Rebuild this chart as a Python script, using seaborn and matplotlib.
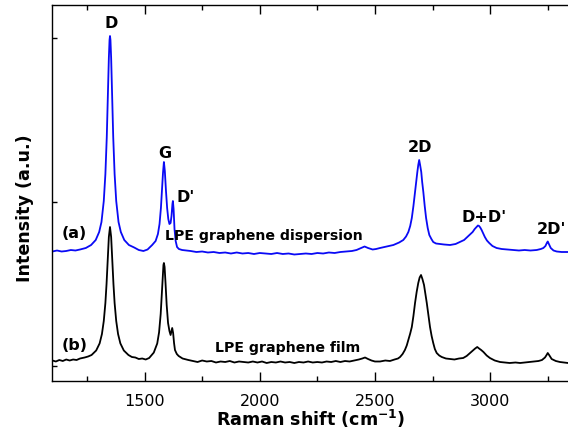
import pandas as pd
import matplotlib
matplotlib.use('Agg')
import matplotlib.pyplot as plt
import seaborn as sns

# (a) LPE graphene dispersion: (Raman shift, intensity a.u.)
spectrum_a = [
    (1100, 129.5), (1120, 130.5), (1140, 129.5), (1160, 130), (1180, 131), (1200, 130.5),
    (1220, 131.5), (1245, 133), (1268, 136), (1288, 141), (1303, 149), (1313, 159),
    (1323, 180), (1330, 207), (1336, 244), (1341, 288), (1345, 323), (1348, 341),
    (1350, 345), (1352, 341), (1355, 323), (1359, 288), (1364, 244), (1370, 207),
    (1377, 180), (1387, 159), (1397, 149), (1412, 141), (1432, 136), (1455, 133.5),
    (1475, 131), (1495, 130), (1513, 131.5), (1533, 136), (1548, 140), (1558, 147),
    (1565, 157), (1571, 173), (1576, 192), (1580, 208), (1584, 219), (1588, 210),
    (1593, 190), (1598, 173), (1603, 162), (1608, 157), (1613, 158), (1617, 165),
    (1621, 177), (1623, 180), (1626, 172), (1630, 152), (1635, 140), (1641, 134),
    (1649, 132), (1663, 131), (1680, 130.5), (1700, 130), (1725, 129), (1750, 129.5),
    (1775, 128.5), (1800, 129), (1825, 128), (1850, 128.5), (1875, 127.5), (1900, 128.5),
    (1925, 127.5), (1950, 128), (1975, 127), (2000, 128), (2025, 127.5), (2050, 127),
    (2075, 128), (2100, 127), (2125, 127.5), (2150, 126.5), (2175, 127), (2200, 127.5),
    (2225, 127), (2250, 128), (2275, 127.5), (2300, 128.5), (2325, 128), (2350, 129),
    (2375, 129.5), (2400, 130), (2420, 131), (2440, 133), (2455, 134.5), (2470, 133),
    (2490, 131.5), (2505, 132), (2522, 133), (2550, 134.5), (2580, 136), (2605, 138.5),
    (2623, 141), (2635, 144.5), (2645, 149), (2653, 155), (2660, 163), (2667, 175),
    (2674, 189), (2680, 201), (2684, 209), (2688, 216), (2692, 221), (2696, 216),
    (2701, 209), (2705, 199), (2710, 189), (2716, 175), (2722, 163), (2729, 153),
    (2736, 146), (2745, 142), (2753, 139), (2765, 137.5), (2782, 137), (2800, 136.5),
    (2826, 136), (2850, 137), (2869, 139), (2887, 141), (2901, 144), (2912, 146.5),
    (2924, 149), (2933, 152), (2941, 154), (2947, 155.5), (2952, 155), (2957, 153.5),
    (2963, 151), (2970, 147.5), (2977, 144), (2986, 140.5), (2996, 138), (3010, 135),
    (3028, 133), (3050, 132), (3075, 131.5), (3099, 131), (3125, 130.5), (3150, 131),
    (3175, 130.5), (3202, 131), (3220, 132), (3231, 133), (3240, 135), (3246, 138),
    (3250, 139.5), (3255, 137), (3263, 133), (3275, 130.5), (3289, 129.5), (3310, 129),
    (3338, 129),
]

# (b) LPE graphene film
spectrum_b = [
    (1100, 20.5), (1115, 19.5), (1130, 21), (1145, 20), (1160, 21.5), (1175, 20.5),
    (1190, 21.5), (1205, 21), (1220, 22.5), (1240, 23.5), (1255, 24.5), (1270, 26),
    (1290, 30.5), (1305, 37.6), (1315, 47), (1323, 60), (1330, 78), (1335, 97),
    (1340, 121), (1345, 144), (1350, 154), (1355, 144), (1360, 121), (1365, 97),
    (1370, 78), (1377, 60), (1385, 47), (1395, 37.6), (1410, 30.5), (1430, 26),
    (1445, 24), (1460, 23.5), (1475, 22), (1490, 22.5), (1505, 21.5), (1520, 23),
    (1540, 28.4), (1555, 37.5), (1563, 48.7), (1570, 67), (1575, 88), (1579, 106),
    (1582, 116), (1584, 118), (1587, 114), (1591, 98), (1596, 76), (1602, 58),
    (1608, 50), (1613, 46), (1617, 50), (1620, 53), (1624, 48), (1628, 38),
    (1632, 31), (1640, 27), (1648, 25), (1665, 22.5), (1690, 21), (1710, 20),
    (1730, 19), (1750, 20.5), (1770, 19.5), (1790, 20), (1810, 18.5), (1830, 19.5),
    (1850, 19), (1870, 20), (1890, 18.5), (1910, 19.5), (1930, 19), (1950, 18.5),
    (1970, 19.5), (1990, 18.5), (2010, 19.5), (2030, 18), (2050, 19), (2070, 18.5),
    (2090, 19.5), (2110, 18.5), (2130, 19), (2150, 18), (2170, 19), (2190, 18.5),
    (2210, 19.5), (2230, 18.5), (2250, 19), (2270, 18.5), (2290, 19.5), (2310, 19),
    (2330, 20), (2350, 19), (2370, 20), (2390, 19.5), (2410, 20.5), (2430, 21.5),
    (2445, 22.5), (2457, 23.5), (2470, 22), (2485, 20.5), (2500, 19.5), (2522, 19.5),
    (2545, 20.5), (2565, 20), (2585, 21.5), (2600, 22.5), (2609, 24), (2620, 27),
    (2630, 31), (2638, 35.5), (2645, 41), (2653, 47.5), (2660, 54), (2667, 65),
    (2674, 78), (2681, 89), (2688, 98), (2694, 103.5), (2700, 106), (2706, 102),
    (2713, 96), (2719, 87), (2725, 78), (2732, 66), (2739, 54), (2746, 45),
    (2753, 38), (2760, 32), (2768, 28), (2779, 25.5), (2790, 24), (2808, 22.5),
    (2826, 22), (2845, 21.5), (2865, 22.5), (2883, 23), (2898, 25), (2913, 28),
    (2925, 30.5), (2935, 32.5), (2944, 34), (2952, 32.5), (2961, 31), (2971, 29),
    (2985, 25.5), (2999, 23), (3020, 20.5), (3043, 19), (3065, 18.5), (3085, 18),
    (3110, 18.5), (3130, 18), (3150, 18.5), (3170, 19), (3190, 19.5), (3210, 20),
    (3225, 21), (3238, 23.5), (3245, 26), (3250, 28), (3256, 26), (3267, 22),
    (3285, 20), (3303, 19), (3320, 18.5), (3338, 18),
]

peak_labels = ['D', 'G', "D'", '2D', "D+D'", "2D'"]
peak_x = [1353, 1589, 1678, 2695, 2973, 3268]
peak_y = [358, 228, 184, 233, 164, 151]

major_ticks = [1500, 2000, 2500, 3000]
minor_ticks = [1250, 1750, 2250, 2750, 3250]
y_ticks = [15, 179, 343]

df_a = pd.DataFrame(spectrum_a, columns=['shift', 'intensity'])
df_b = pd.DataFrame(spectrum_b, columns=['shift', 'intensity'])

sns.set_style('ticks', rc={'axes.edgecolor': 'black', 'xtick.color': 'black',
                           'ytick.color': 'black', 'text.color': 'black',
                           'axes.labelcolor': 'black'})
plt.rcParams['font.family'] = ['DejaVu Sans']
plt.rcParams['mathtext.fontset'] = 'dejavusans'

fig = plt.figure(figsize=(5.68, 4.42), dpi=100)
# axes runs past the right edge of the figure, as in the cropped original
ax = fig.add_axes([52.4 / 568, 61 / 442, 529.9 / 568, 376 / 442])

sns.lineplot(data=df_a, x='shift', y='intensity', ax=ax, color='#0a0af5',
             lw=1.3, estimator=None, sort=False)
sns.lineplot(data=df_b, x='shift', y='intensity', ax=ax, color='black',
             lw=1.3, estimator=None, sort=False)

ax.set_xlim(1100, 3400)
ax.set_ylim(0, 376)
ax.set_xticks(major_ticks)
ax.set_xticks(minor_ticks, minor=True)
ax.set_yticks(y_ticks)
ax.set_yticklabels([])

ax.tick_params(axis='x', which='both', direction='in', top=True, bottom=True,
               width=1, labelsize=11.5, pad=9)
ax.tick_params(axis='x', which='major', length=6.5)
ax.tick_params(axis='x', which='minor', length=3.6)
ax.tick_params(axis='y', direction='in', length=3.5, width=1, left=True, right=False)
for sp in ax.spines.values():
    sp.set_linewidth(1)
ax.spines['right'].set_visible(False)

ax.set_xlabel(r'Raman shift (cm$^{\mathbf{-1}}$)', fontsize=12.6, fontweight='bold', va='center')
ax.xaxis.set_label_coords(0.488, -0.100)
ax.set_ylabel('Intensity (a.u.)', fontsize=12.6, fontweight='bold', va='center')
ax.yaxis.set_label_coords(-0.0517, 0.46)

for lab, px, py in zip(peak_labels, peak_x, peak_y):
    ax.text(px, py, lab, fontsize=11.5, fontweight='bold', ha='center', va='center')

ax.text(1194, 147, '(a)', fontsize=11.5, fontweight='bold', ha='center', va='center')
ax.text(1197, 36, '(b)', fontsize=11.5, fontweight='bold', ha='center', va='center')
ax.text(1589, 141, 'LPE graphene dispersion', fontsize=10.2, fontweight='bold',
        ha='left', va='baseline')
ax.text(1805, 29, 'LPE graphene film', fontsize=10.2, fontweight='bold',
        ha='left', va='baseline')

fig.savefig('out.png', dpi=100)
